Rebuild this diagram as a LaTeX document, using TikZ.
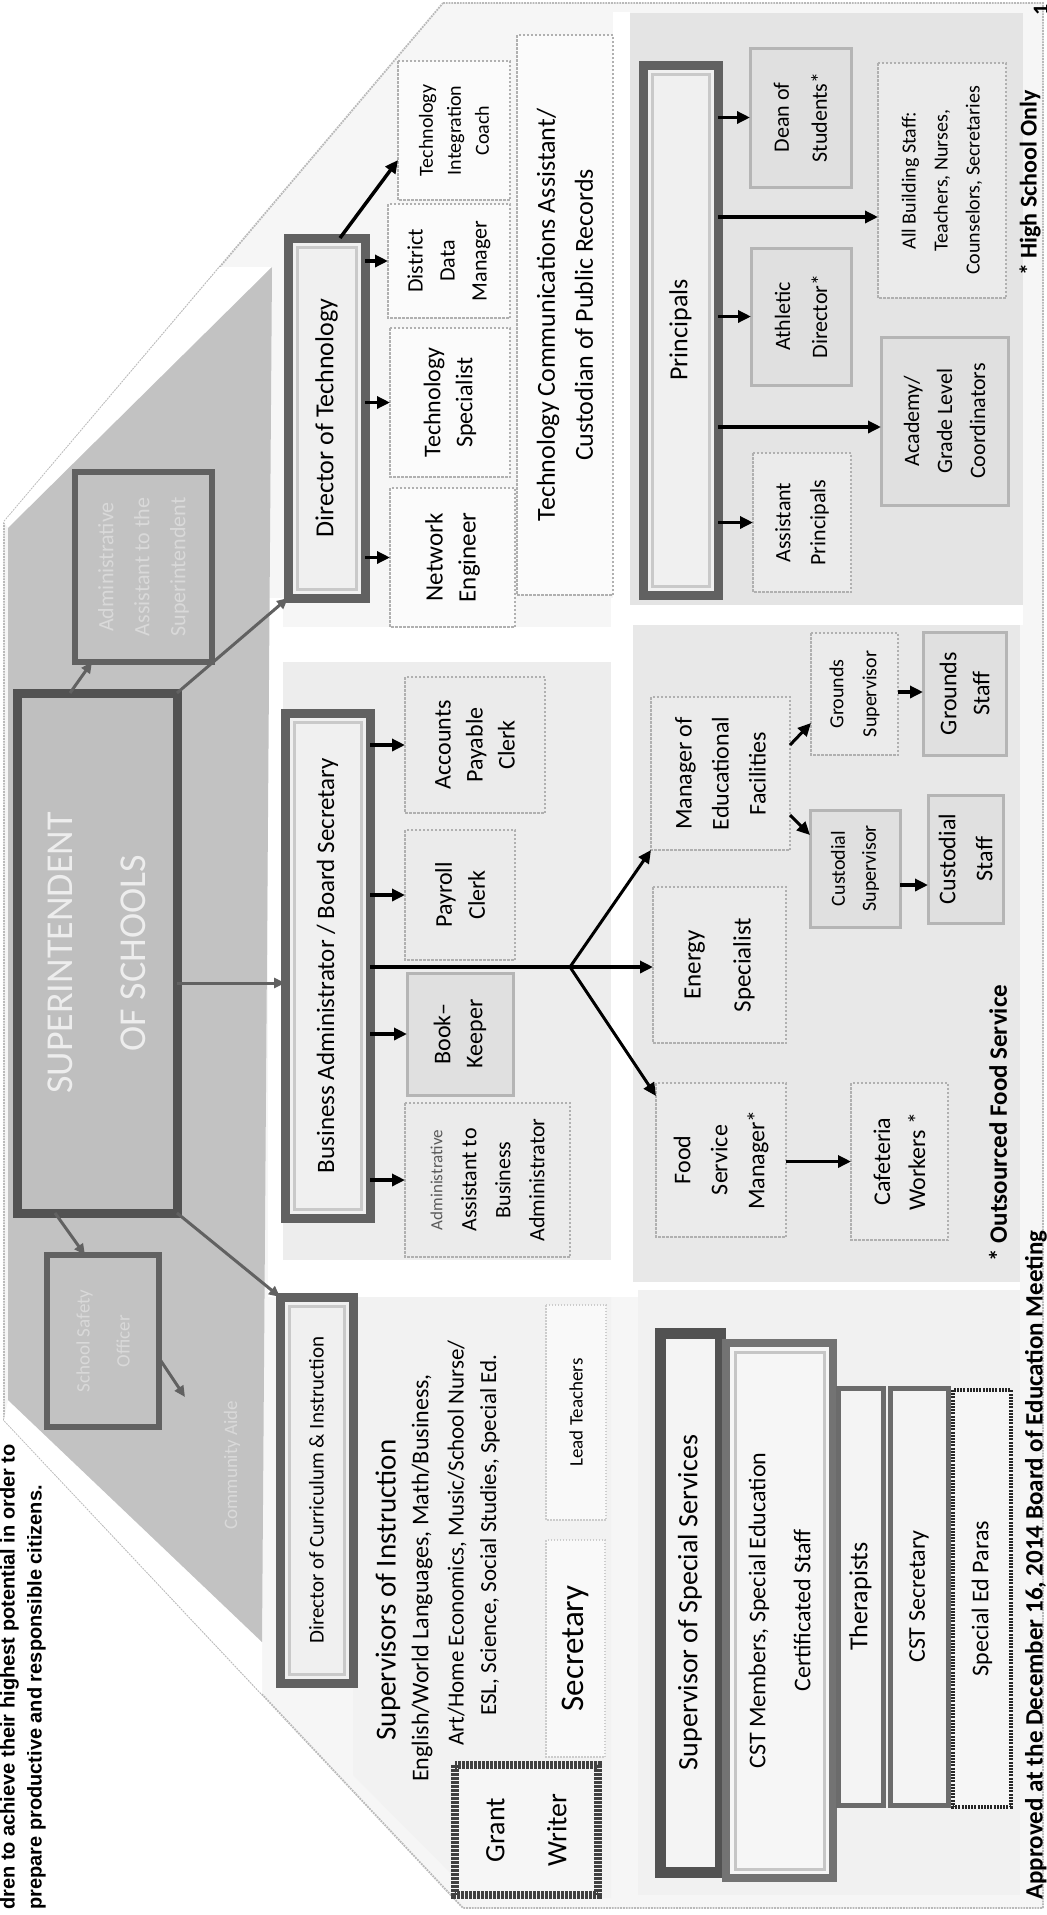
\documentclass[tikz,border=0pt]{standalone}
\usepackage{fontspec}
\setmainfont{Carlito}
\newfontfamily\missionfont{Liberation Sans}
\usetikzlibrary{arrows.meta}
\newcommand\fsz[2]{\fontsize{#1}{#2}\selectfont}
\newcommand\obox[7]{\node[#6, rotate=90, inner sep=0pt, outer sep=0pt, align=center,
  minimum width={(#5-#3)*1pt}, minimum height={(#4-#2)*1pt}] (#1) at ({(#2+#4)/2},{(#3+#5)/2}) {#7};}
\newcommand\barbox[7]{\obox{#1}{#2}{#3}{#4}{#5}{barst, font=#6}{#7}%
  \draw[gray!42, line width=3pt] ({#2+9},{#3+9}) rectangle ({#4-9},{#5-9});}
\begin{document}
\begin{tikzpicture}[x=1pt,y=-1pt,
  supbox/.style={draw=black!68, line width=9pt, fill=gray!50, text=white!93!black},
  darkbox/.style={draw=black!62, line width=6pt, fill=gray!48, text=white!85!black},
  barst/.style={draw=black!62, line width=9pt, fill=gray!12},
  dotbox/.style={draw=gray!62, line width=2.5pt, dash pattern=on 2.5pt off 1.5pt, fill=gray!3},
  pdot/.style={draw=gray!62, line width=2.5pt, dash pattern=on 2.5pt off 1.5pt, fill=gray!16},
  graybox/.style={draw=gray!58, line width=3pt, fill=gray!24},
  ltbox/.style={draw=gray!40, line width=1.5pt, dash pattern=on 1.5pt off 1.5pt, fill=gray!5},
  gwbox/.style={draw=black!75, line width=8pt, dash pattern=on 3pt off 1pt, fill=gray!7},
  ssbox/.style={draw=black!68, line width=11pt, fill=gray!9},
  cstbox/.style={draw=black!55, line width=8pt, fill=gray!7},
  thbox/.style={draw=black!58, line width=5pt, fill=gray!9},
  chkbox/.style={draw=black!85, line width=4pt, dash pattern=on 2pt off 1.2pt, fill=gray!7},
  barr/.style={draw=black, line width=3.5pt, -{Triangle[length=13pt,width=12pt]}},
  bline/.style={draw=black, line width=3.5pt},
  garr/.style={draw=black!62, line width=3pt, -{Triangle[length=11pt,width=10pt]}},
  note/.style={rotate=90, font=\bfseries\fsz{25}{30}},
  txt/.style={rotate=90, inner sep=0pt}
]
\useasboundingbox (0,0) rectangle (1047,1915);
\fill[white] (0,0) rectangle (1047,1915);
% outer frame
\path[fill=gray!7, draw=gray!55, line width=1.8pt, densely dotted]
  (443,3) -- (1043,3) -- (1043,1908) -- (463,1908) -- (4,1420) -- (4,522) -- cycle;
% white gaps
\fill[white] (4,522) -- (220,267) -- (272,267) -- (8,528) -- cycle;
\fill[white] (8,1400) -- (262,1642) -- (262,1694) -- (4,1420) -- cycle;
\fill[white] (268,598) rectangle (283,1297);
\fill[white] (268,627) rectangle (633,662);
\fill[white] (611,598) rectangle (633,1297);
\fill[white] (268,1260) rectangle (640,1297);
\fill[white] (613,12) rectangle (630,625);
\fill[white] (630,605) rectangle (1023,625);
\fill[white] (633,1282) rectangle (1020,1290);
% panels
\fill[gray!14] (283,662) rectangle (611,1260);
\fill[gray!21] (630,13) rectangle (1023,605);
\fill[gray!18] (633,625) rectangle (1020,1282);
\fill[gray!11] (638,1290) rectangle (1020,1895);
\fill[gray!10] (353,1297) -- (611,1297) -- (611,1898) -- (475,1898) -- (353,1775) -- cycle;
% pyramid
\fill[gray!48] (272,267) -- (262,1642) -- (8,1400) -- (8,528) -- cycle;

% mission text
\node[rotate=90, anchor=north west, inner sep=0pt, align=left,
  font=\missionfont\bfseries\fsz{20}{27}] (mission) at (0,1910)
  {dren to achieve their highest potential in order to\\prepare productive and responsible citizens.};

% superintendent area
\obox{sup}{17}{693}{177}{1213}{supbox, font=\fsz{38}{73}}{SUPERINTENDENT\\OF SCHOOLS}
\obox{aas}{75}{472}{212}{662}{darkbox, font=\fsz{22}{36}}{Administrative\\Assistant to the\\Superintendent}
\obox{safe}{47}{1255}{159}{1427}{darkbox, font=\fsz{19}{40}}{School Safety\\Officer}
\node[rotate=90, text=white!85!black, font=\fsz{19}{22}] (comm) at (232,1465) {Community Aide};
\coordinate (commtip) at (185,1397);

% director of technology
\barbox{dtech}{288}{238}{365}{598}{\fsz{26}{30}}{Director of Technology}
\obox{tic}{398}{61}{510}{200}{dotbox, font=\fsz{20}{28}}{Technology\\Integration\\Coach}
\obox{ddm}{388}{204}{510}{318}{dotbox, font=\fsz{22}{32}}{District\\Data\\Manager}
\obox{tsp}{390}{328}{510}{477}{dotbox, font=\fsz{24}{32}}{Technology\\Specialist}
\obox{neng}{390}{488}{515}{627}{dotbox, font=\fsz{25}{33}}{Network\\Engineer}
\obox{tcomm}{517}{35}{613}{595}{dotbox, font=\fsz{26}{38}}{Technology Communications Assistant/\\Custodian of Public Records}

% business administrator
\barbox{bus}{285}{713}{370}{1218}{\fsz{25}{30}}{Business Administrator / Board Secretary}
\obox{apc}{405}{677}{545}{813}{pdot, font=\fsz{24}{32}}{Accounts\\Payable\\Clerk}
\obox{pay}{405}{830}{515}{960}{pdot, font=\fsz{24}{33}}{Payroll\\Clerk}
\obox{bk}{407}{973}{513}{1095}{graybox, font=\fsz{24}{32}}{Book--\\Keeper}
\obox{aaba}{405}{1103}{570}{1257}{pdot, font=\fsz{22}{34}}{{\fsz{17}{34}\color{gray!70!black}Administrative}\\Assistant to\\Business\\Administrator}

% facilities
\obox{mef}{651}{697}{790}{850}{pdot, font=\fsz{24}{37}}{Manager of\\Educational\\Facilities}
\obox{eng}{653}{887}{786}{1043}{pdot, font=\fsz{25}{50}}{Energy\\Specialist}
\obox{fsm}{656}{1083}{786}{1237}{pdot, font=\fsz{24}{37}}{Food\\Service\\Manager*}
\obox{caf}{851}{1083}{948}{1240}{pdot, font=\fsz{24}{35}}{Cafeteria\\Workers *}
\obox{gsup}{811}{633}{898}{755}{pdot, font=\fsz{20}{33}}{Grounds\\Supervisor}
\obox{csup}{810}{810}{900}{927}{graybox, font=\fsz{20}{31}}{Custodial\\Supervisor}
\obox{gstf}{923}{632}{1006}{755}{graybox, font=\fsz{24}{33}}{Grounds\\Staff}
\obox{cstf}{928}{795}{1003}{923}{graybox, font=\fsz{24}{37}}{Custodial\\Staff}
\node[note] (outs) at (998,1123) {* Outsourced Food Service};

% principals
\barbox{prin}{643}{65}{718}{595}{\fsz{26}{30}}{Principals}
\obox{dean}{750}{48}{851}{187}{graybox, font=\fsz{22}{38}}{Dean of\\Students*}
\obox{ath}{751}{248}{851}{385}{graybox, font=\fsz{22}{37}}{Athletic\\Director*}
\obox{ap}{753}{453}{851}{592}{pdot, font=\fsz{22}{35}}{Assistant\\Principals}
\obox{abs}{878}{63}{1006}{298}{pdot, font=\fsz{20}{32}}{All Building Staff:\\Teachers, Nurses,\\Counselors, Secretaries}
\obox{acad}{881}{337}{1008}{505}{graybox, font=\fsz{22}{33}}{Academy/\\Grade Level\\Coordinators}
\node[note, font=\bfseries\fsz{24}{30}] (hso) at (1030,183) {* High School Only};
\node[rotate=90, font=\bfseries\fsz{22}{22}] (pgno) at (1041,10) {1};

% special services
\obox{sss}{660}{1333}{720}{1872}{ssbox, font=\fsz{28}{32}}{Supervisor of Special Services}
\obox{cst}{726}{1343}{833}{1878}{cstbox, font=\fsz{24}{45}}{CST Members, Special Education\\Certificated Staff}
\draw[gray!45, line width=3pt] (735,1352) rectangle (824,1869);
\obox{ther}{838}{1388}{883}{1805}{thbox, font=\fsz{26}{30}}{Therapists}
\obox{csts}{890}{1388}{948}{1805}{thbox, font=\fsz{24}{30}}{CST Secretary}
\obox{sep}{953}{1390}{1011}{1807}{chkbox, font=\fsz{24}{30}}{Special Ed Paras}
\node[note] (appr) at (1036,1565) {Approved at the December 16, 2014 Board of Education Meeting};

% curriculum
\barbox{dcur}{280}{1297}{353}{1683}{\fsz{21}{26}}{Director of Curriculum \& Instruction}
\node[txt, font=\fsz{29}{34}] (supi) at (388,1590) {Supervisors of Instruction};
\node[txt, font=\fsz{24}{30}] (supl1) at (422,1578) {English/World Languages, Math/Business,};
\node[txt, font=\fsz{23}{30}] (supl2) at (457,1543) {Art/Home Economics, Music/School Nurse/};
\node[txt, font=\fsz{23}{30}] (supl3) at (490,1535) {ESL, Science, Social Studies, Special Ed.};
\obox{lead}{546}{1305}{606}{1520}{ltbox, font=\fsz{19}{24}}{Lead Teachers}
\obox{sec}{546}{1540}{605}{1757}{ltbox, font=\fsz{33}{36}}{Secretary}
\obox{gw}{455}{1765}{598}{1895}{gwbox, font=\fsz{28}{62}}{Grant\\Writer}

% connectors from superintendent
\draw[garr] (70,0 |- sup.east) -- (92,0 |- aas.west);
\draw[garr] (sup.south east) -- (dtech.north west);
\draw[garr] (sup.south |- 0,983) -- (bus.north |- 0,983);
\draw[garr] (sup.south west) -- (dcur.north east);
\draw[garr] (55,0 |- sup.west) -- (85,0 |- safe.east);
\draw[garr] (safe.south |- 0,1358) -- (commtip);

% technology arrows
\draw[barr] (dtech.south |- tsp) -- (tsp.north);
\draw[barr] (dtech.south |- ddm) -- (ddm.north);
\draw[barr] (dtech.south |- neng) -- (neng.north);
\draw[barr] (340,0 |- dtech.east) -- (tic.north |- 0,160);

% business arrows
\draw[barr] (bus.south |- apc) -- (apc.north);
\draw[barr] (bus.south |- pay) -- (pay.north);
\draw[barr] (bus.south |- bk) -- (bk.north);
\draw[barr] (bus.south |- aaba) -- (aaba.north);
\coordinate (fork) at (570,967);
\draw[bline] (bus.south |- fork) -- (fork);
\draw[barr] (fork) -- (eng.north |- fork);
\draw[barr, line width=3pt] (fork) -- (mef.north west);
\draw[barr, line width=3pt] (fork) -- (fsm.north |- 0,1096);

% facilities arrows
\draw[barr] (fsm.south |- caf) -- (caf.north);
\draw[barr, line width=3pt] (mef.south |- 0,745) -- (gsup.north |- 0,723);
\draw[barr, line width=3pt] (mef.south |- 0,815) -- (csup.north |- 0,835);
\draw[barr] (csup.south |- 0,885) -- (cstf.north |- 0,885);
\draw[barr] (gsup.south |- 0,692) -- (gstf.north |- 0,692);

% principals arrows
\draw[barr] (prin.south |- dean) -- (dean.north);
\draw[barr] (prin.south |- ath) -- (ath.north);
\draw[barr] (prin.south |- ap) -- (ap.north);
\draw[barr] (prin.south |- 0,217) -- (abs.north |- 0,217);
\draw[barr] (prin.south |- 0,427) -- (acad.north |- 0,427);
\end{tikzpicture}
\end{document}
